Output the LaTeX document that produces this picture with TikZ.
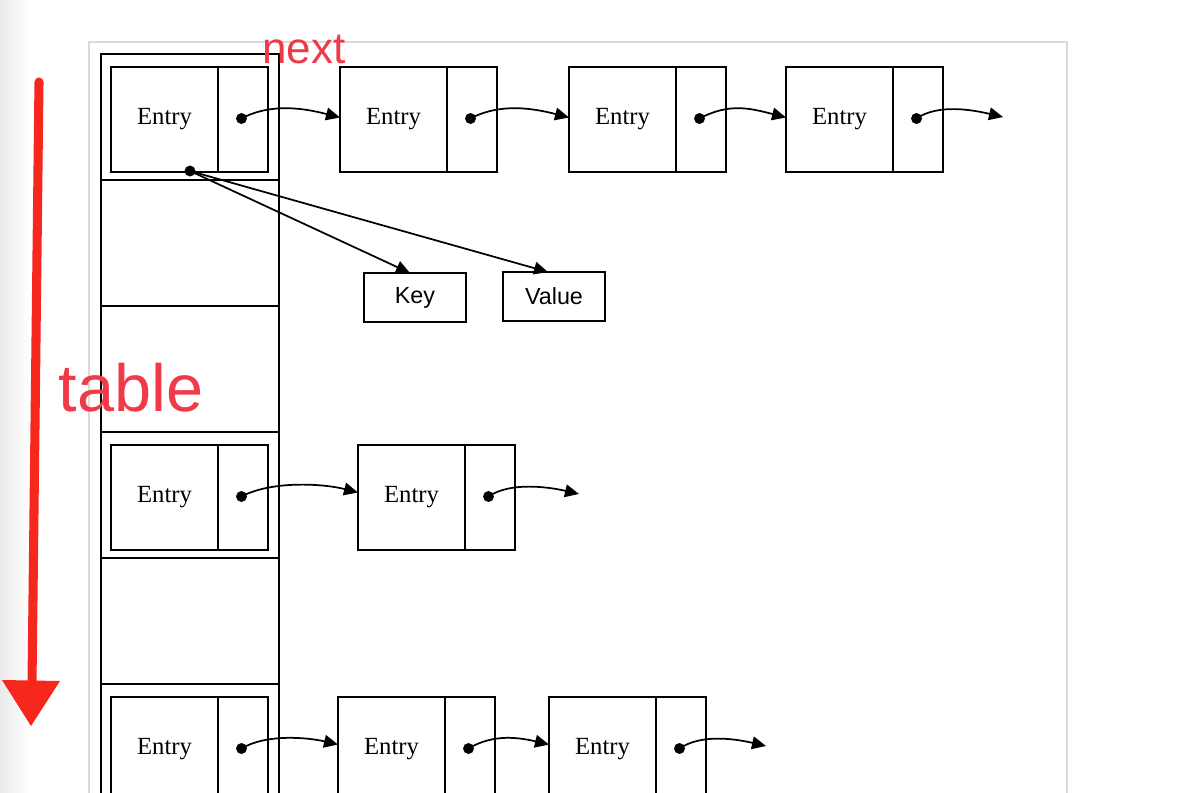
\documentclass[tikz,border=0pt]{standalone}
\usepackage{fontspec}
\setmainfont{Liberation Serif}
\newfontfamily\sansf{Liberation Sans}
\usetikzlibrary{arrows.meta,calc}
\definecolor{nextred}{RGB}{240,58,72}
\definecolor{arrred}{RGB}{246,40,30}
\definecolor{framegray}{RGB}{218,218,218}
\newcommand\entrybox[3]{%
  \node[entrycell, anchor=north west] (#1) at (#2,#3) {Entry};
  \node[ptrcell, anchor=north west] (#1p) at (#1.north east) {};
  \coordinate (#1d) at ($(#1p.center)+(-1.5,-1)$);
  \fill (#1d) circle (4.1pt);
}
\begin{document}
\begin{tikzpicture}[x=0.75pt,y=-0.75pt,
  box/.style={draw, line width=1.4pt, inner sep=0pt, outer sep=0pt, minimum height=78.75pt},
  entrycell/.style={box, minimum width=80.25pt, font=\fontsize{18.5}{22}\selectfont},
  ptrcell/.style={box, minimum width=37.5pt},
  slot/.style={draw, line width=1.4pt, inner sep=0pt, outer sep=0pt, minimum width=133.5pt, minimum height=94.5pt},
  kvbox/.style={draw, line width=1.2pt, inner sep=0pt, outer sep=0pt, minimum width=76.5pt, minimum height=36.75pt, font=\sansf\fontsize{17.5}{20}\selectfont},
  ptr/.style={line width=1.3pt, -{Triangle[length=10.5pt,width=9.5pt]}},
  redlabel/.style={text=nextred, font=\sansf},
]
\useasboundingbox (0,0) rectangle (1184,792);
\clip (0,0) rectangle (1184,792);
\fill[white] (0,0) rectangle (1184,792);
\shade[left color=black!8, right color=white] (0,0) rectangle (30,792);
% outer light frame
\draw[framegray, line width=0.9pt] (89,800) -- (89,42) -- (1067,42) -- (1067,800);
% table slots
\foreach \i/\y in {1/54,2/180,3/306,4/432,5/558,6/684}{
  \node[slot, anchor=north west] (slot\i) at (101,\y) {};
}
% entries
\entrybox{A1}{111}{67}
\entrybox{A2}{340}{67}
\entrybox{A3}{569}{67}
\entrybox{A4}{786}{67}
\entrybox{B1}{111}{445}
\entrybox{B2}{358}{445}
\entrybox{C1}{111}{697}
\entrybox{C2}{338}{697}
\entrybox{C3}{549}{697}
% free ends
\coordinate (A4end) at (1003,117);
\coordinate (B2end) at (579,494);
\coordinate (C3end) at (766,746);
% next pointers
\draw[ptr] (A1d) .. controls +(30,-16) and +(-35,-9) .. ($(A2.west)+(0,-2)$);
\draw[ptr] (A2d) .. controls +(30,-16) and +(-35,-9) .. ($(A3.west)+(0,-2)$);
\draw[ptr] (A3d) .. controls +(30,-16) and +(-35,-9) .. ($(A4.west)+(0,-2)$);
\draw[ptr] (A4d) .. controls +(22,-15) and +(-30,-7) .. (A4end);
\draw[ptr] (B1d) .. controls +(30,-16) and +(-35,-9) .. ($(B2.west)+(0,-5)$);
\draw[ptr] (B2d) .. controls +(22,-15) and +(-30,-7) .. (B2end);
\draw[ptr] (C1d) .. controls +(25,-15) and +(-30,-7) .. ($(C2.west)+(0,-5)$);
\draw[ptr] (C2d) .. controls +(25,-15) and +(-30,-7) .. ($(C3.west)+(0,-5)$);
\draw[ptr] (C3d) .. controls +(22,-15) and +(-30,-7) .. (C3end);
% key / value
\node[kvbox, anchor=north west] (key) at (364,273) {Key};
\node[kvbox, anchor=north west] (value) at (503,272) {Value};
\coordinate (A1kv) at (190,171);
\fill (A1kv) circle (4.1pt);
\draw[ptr] (A1kv) -- ($(key.north)+(-5,0)$);
\draw[ptr] (A1kv) -- ($(value.north)+(-6,0)$);
% red annotations
\node[redlabel, font=\sansf\fontsize{33}{36}\selectfont] (lnext) at (304,49) {next};
\node[redlabel, font=\sansf\fontsize{50}{56}\selectfont] (ltable) at (131,388) {table};
\coordinate (rtop) at (39,82);
\coordinate (rbase) at (32,684);
\coordinate (rtip) at (31,726);
\draw[arrred, line width=6.8pt, line cap=round] (rtop) -- (rbase);
\fill[arrred] (2,680) -- (60,681) -- (rtip) -- cycle;
\end{tikzpicture}
\end{document}
